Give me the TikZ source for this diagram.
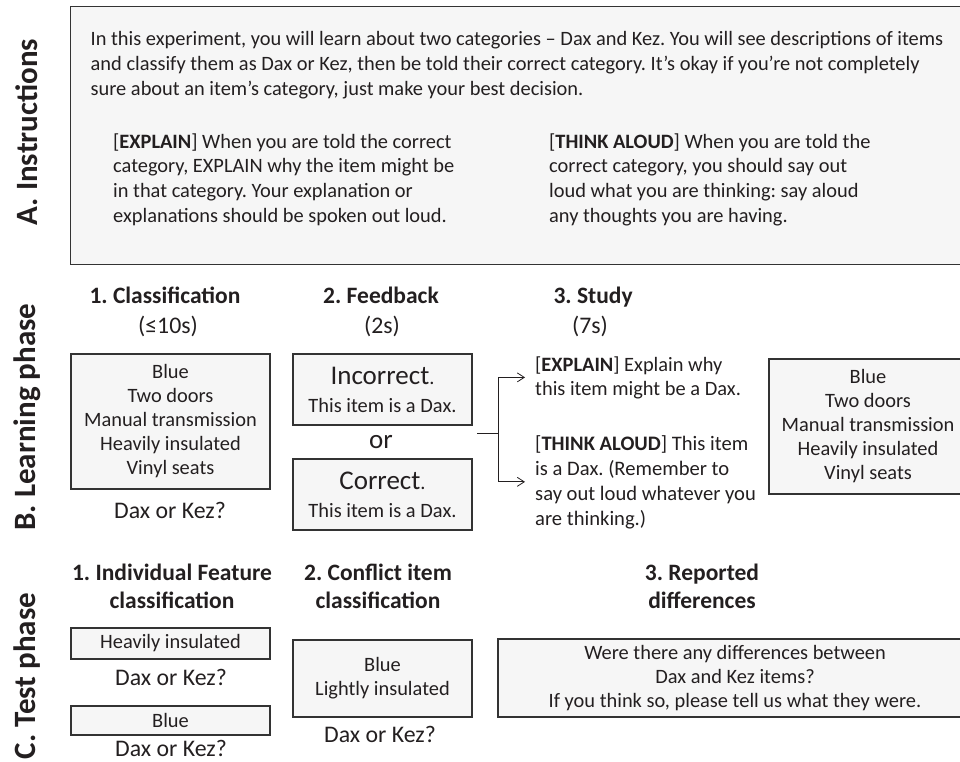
\documentclass[tikz,border=0pt]{standalone}
\usepackage{fontspec}
\setmainfont{Carlito}
\usepackage{xcolor}
\usetikzlibrary{arrows.meta,positioning}
\frenchspacing

\definecolor{ink}{HTML}{231F20}
\definecolor{panelfill}{HTML}{F6F6F6}
\newcommand\bodyfont{\fontsize{20.4}{24.6}\selectfont}
\newcommand\itemfont{\fontsize{20.4}{24}\selectfont}
\newcommand\askfont{\fontsize{23.8}{26}\selectfont}
\newcommand\bigfont{\fontsize{27}{30}\selectfont}
\newcommand\headfont{\fontsize{23.5}{28}\selectfont\bfseries}
\newcommand\phasefont{\fontsize{31}{34}\selectfont\bfseries}

\tikzset{
  panel/.style={draw=black!80, fill=panelfill, line width=1.3pt, inner sep=0pt},
  item/.style={panel, align=center, font=\itemfont},
  head/.style={anchor=base, align=center, font=\headfont},
  para/.style={anchor=base west, align=left, inner sep=0pt},
  phase/.style={rotate=90, font=\phasefont},
  ask/.style={anchor=base, font=\askfont},
  link/.style={line width=0.8pt},
}

\begin{document}
\begin{tikzpicture}[x=1pt,y=-1pt,color=ink]
  \useasboundingbox (0,0) rectangle (960,761);
  % A. Instructions (base = last line)
  \node [panel, minimum width=905pt, minimum height=258pt, anchor=north west] (I) at (70,6) {};
  \node [phase] (LA) at (27,132) {A. Instructions};
  \node [para, font=\bodyfont] (intro) at (90.5,95) {In this experiment, you will learn about two categories – Dax and Kez. You will see descriptions of items\\and classify them as Dax or Kez, then be told their correct category. It’s okay if you’re not completely\\sure about an item’s category, just make your best decision.};
  \node [para, font=\bodyfont] (IE) at (113,222) {[\textbf{EXPLAIN}] When you are told the correct\\category, EXPLAIN why the item might be\\in that category. Your explanation or\\explanations should be spoken out loud.};
  \node [para, font=\bodyfont] (IT) at (549,222) {[\textbf{THINK ALOUD}] When you are told the\\correct category, you should say out\\loud what you are thinking: say aloud\\any thoughts you are having.};

  % B. Learning phase
  \node [phase] (LB) at (27,417) {B. Learning phase};
  \node [head] (H1) at (165,303) {1. Classification};
  \node [ask] (T1) at (168,333) {(≤10s)};
  \node [head] (H2) at (381,303) {2. Feedback};
  \node [ask] (T2) at (382,333) {(2s)};
  \node [head, anchor=base west] (H3) at (550,303) {3. Study};
  \node [ask] (T3) at (590,333) {(7s)};

  \node [item, minimum width=199pt, minimum height=135pt] (C) at (170.5,421.5) {Blue\\Two doors\\Manual transmission\\Heavily insulated\\Vinyl seats};
  \node [ask] (CQ) at (170,518) {Dax or Kez?};
  \node [item, minimum width=179pt, minimum height=71pt] (F1) at (382.5,389.5) {{\bigfont Incorrect}.\\[4pt]This item is a Dax.};
  \node [anchor=base, font=\bigfont] (or) at (381,448) {or};
  \node [item, minimum width=179pt, minimum height=71pt] (F2) at (382.5,494.5) {{\bigfont Correct}.\\[4pt]This item is a Dax.};

  \node [para, font=\itemfont] (SE) at (535,395) {[\textbf{EXPLAIN}] Explain why\\this item might be a Dax.};
  \node [para, font=\fontsize{20.6}{25}\selectfont] (ST) at (535,525) {[\textbf{THINK ALOUD}] This item\\is a Dax. (Remember to\\say out loud whatever you\\are thinking.)};
  \node [item, minimum width=198pt, minimum height=135pt] (S) at (868,426.5) {Blue\\Two doors\\Manual transmission\\Heavily insulated\\Vinyl seats};

  \coordinate (fork) at (477,433);
  \coordinate (branch) at (498,433);
  \draw [link] (fork) -- (branch);
  \draw [link, -{Straight Barb[length=7pt,width=9pt]}, shorten >=10pt] (branch) |- (SE.west);
  \draw [link, -{Straight Barb[length=7pt,width=9pt]}, shorten >=10pt] (branch) |- (ST.west);

  % C. Test phase
  \node [phase] (LC) at (27,676) {C. Test phase};
  \node [head] (K1) at (172,608) {1. Individual Feature\\classification};
  \node [head] (K2) at (378,608) {2. Conflict item\\classification};
  \node [head] (K3) at (702,608) {3. Reported\\differences};

  \node [item, minimum width=199pt, minimum height=31pt] (P1) at (170.5,643.5) {Heavily insulated};
  \node [ask] (P1Q) at (171,685) {Dax or Kez?};
  \node [item, minimum width=199pt, minimum height=29pt] (P2) at (170.5,720.5) {Blue};
  \node [ask] (P2Q) at (171,756) {Dax or Kez?};
  \node [item, minimum width=179pt, minimum height=77pt] (Q) at (382.5,678.5) {Blue\\Lightly insulated};
  \node [ask] (QQ) at (380,742) {Dax or Kez?};
  \node [item, minimum width=474pt, minimum height=78pt] (R) at (735,678) {Were there any differences between\\Dax and Kez items?\\If you think so, please tell us what they were.};
\end{tikzpicture}
\end{document}
